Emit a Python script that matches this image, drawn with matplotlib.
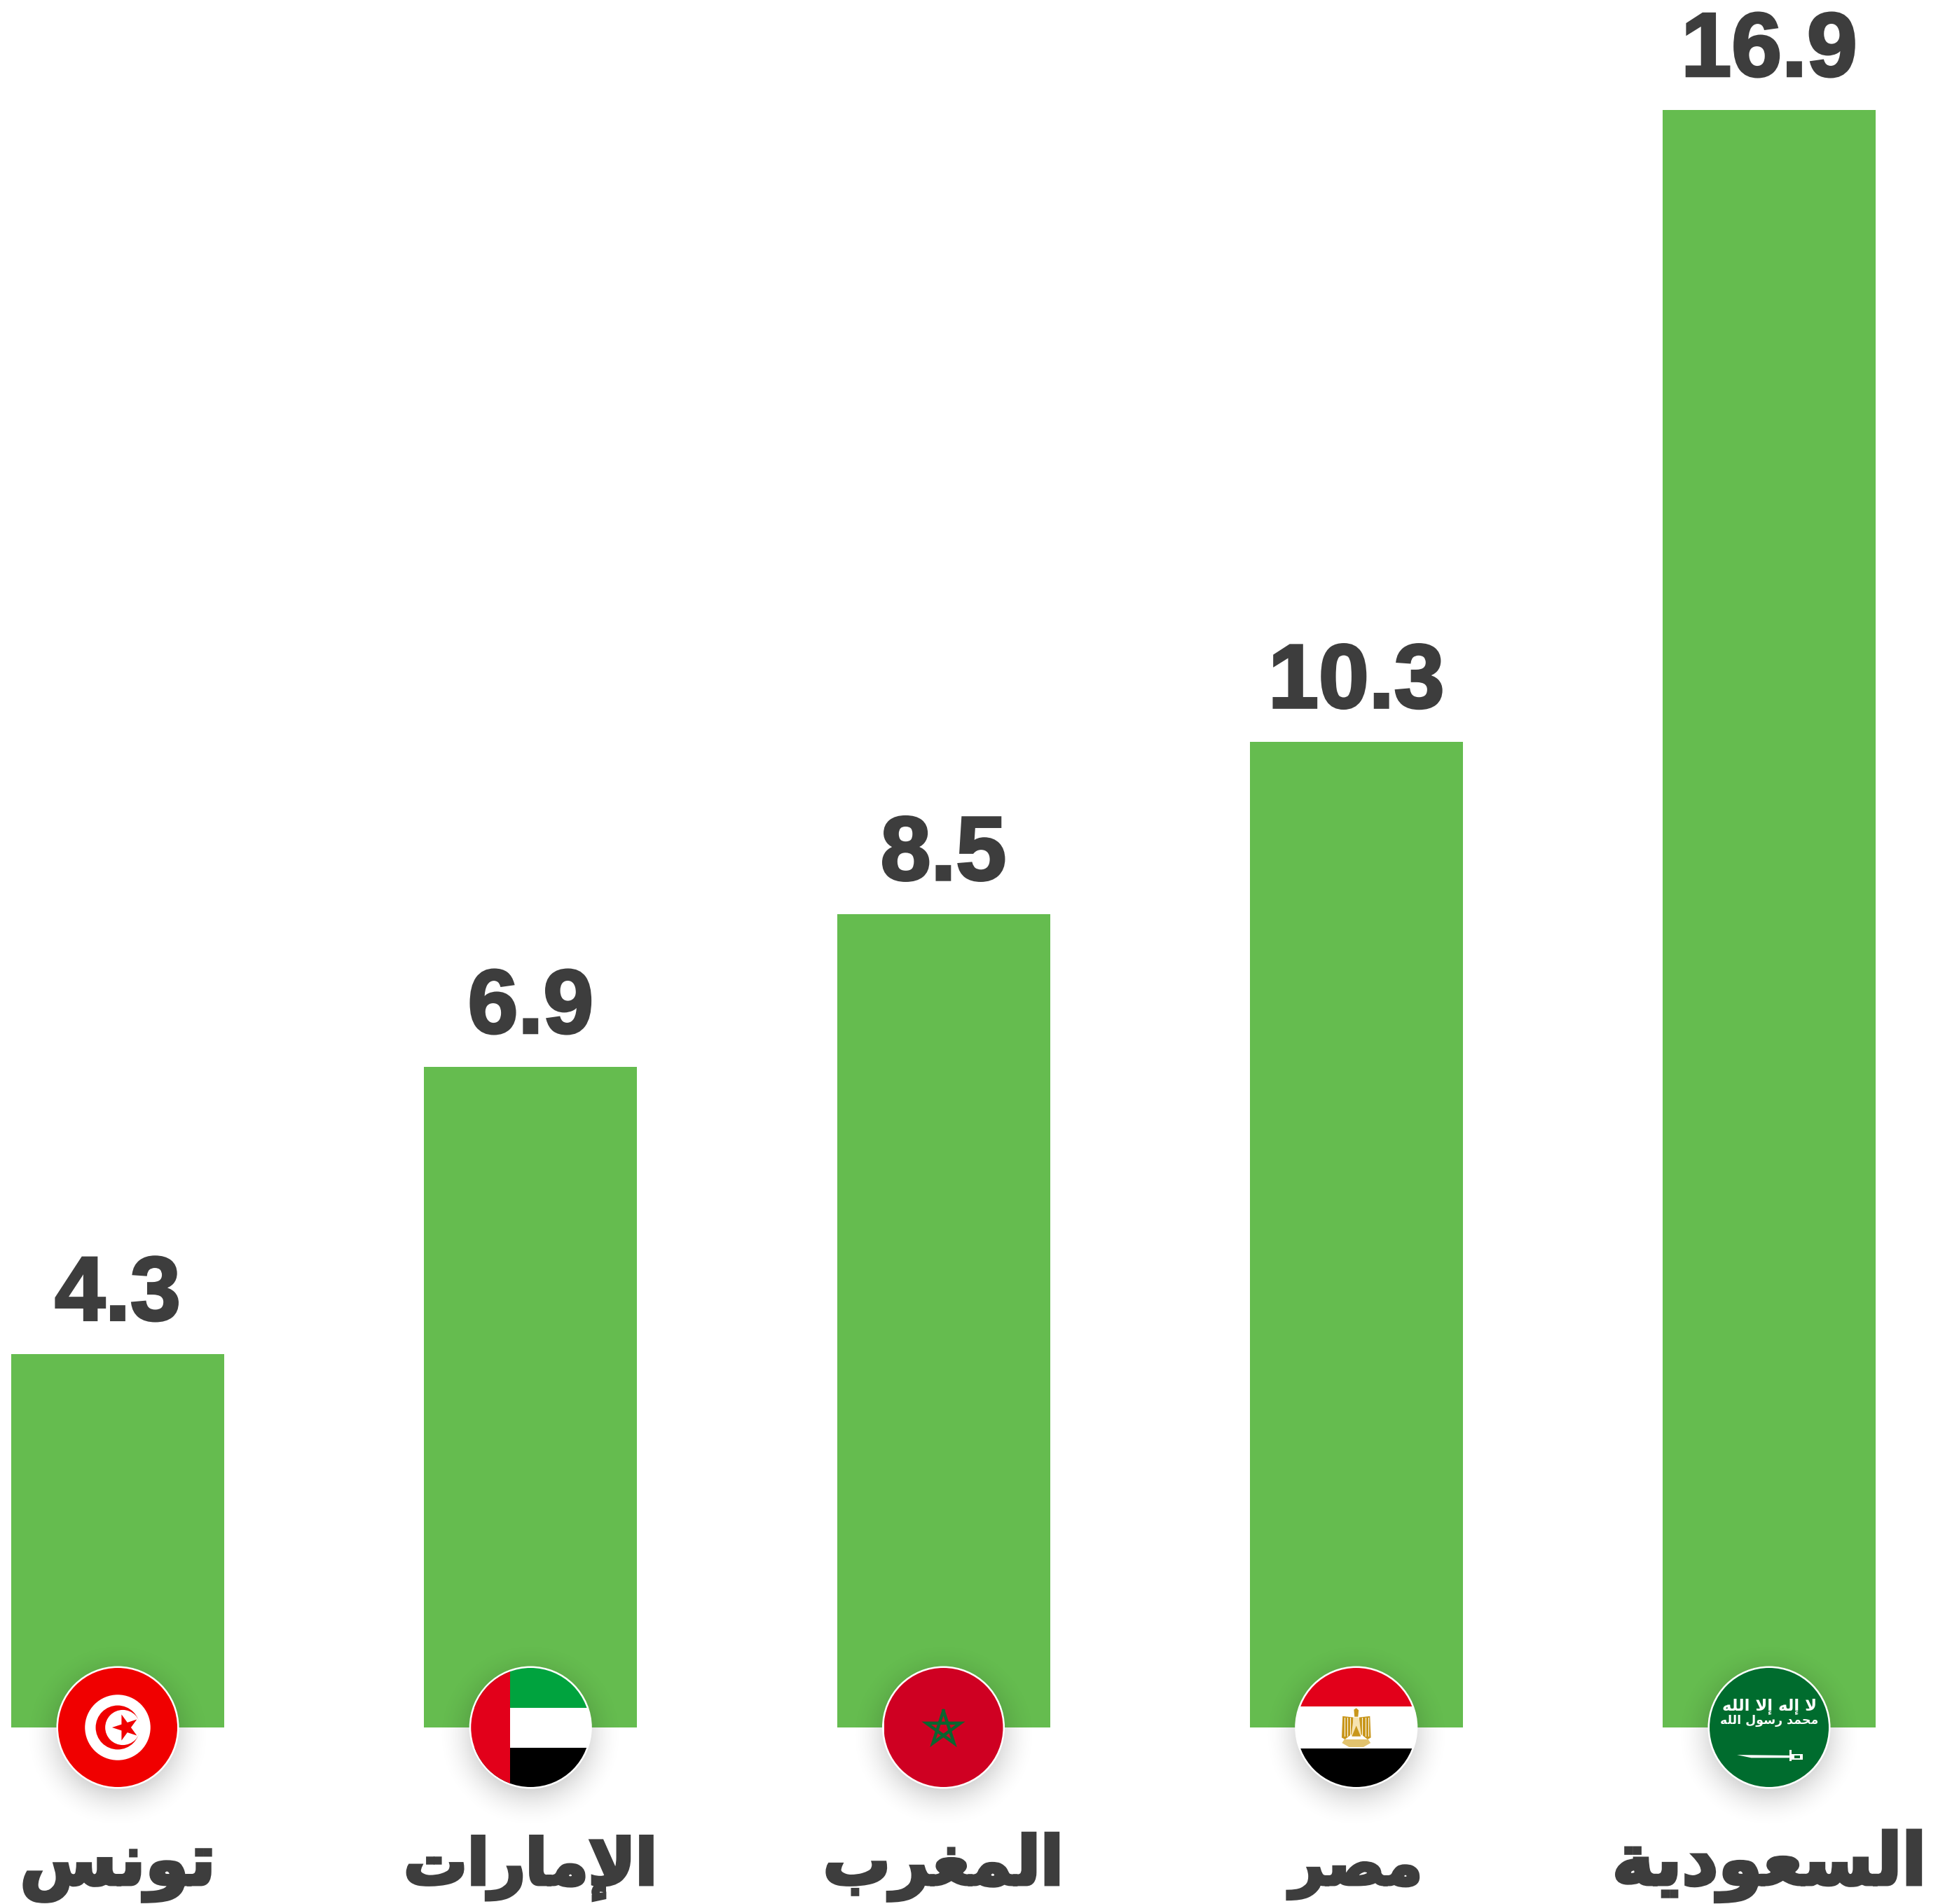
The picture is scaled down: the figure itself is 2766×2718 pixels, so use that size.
#!/usr/bin/env python3
"""Bar chart with round flags, Arabic country labels."""

import numpy as np
import matplotlib
matplotlib.use("Agg")
import matplotlib.pyplot as plt
import matplotlib.patheffects as pe
from matplotlib.patches import Circle, Polygon, Rectangle

W, H = 2766, 2718
DPI = 100

# data, left to right (bar heights; the first bar
# is drawn shorter than its printed 4.3)
countries = ["تونس", "الإمارات", "المغرب", "مصر", "السعودية"]
bar_heights = [3.9, 6.9, 8.5, 10.3, 16.9]
value_labels = ["4.3", "6.9", "8.5", "10.3", "16.9"]
flags = ["tunisia", "uae", "morocco", "egypt", "saudi"]

GREEN = "#65bc4f"
TEXT = "#3d3d3d"

# isolated, final, initial, medial
FORMS = {
    "ا": (0xFE8D, 0xFE8E), "إ": (0xFE87, 0xFE88), "ب": (0xFE8F, 0xFE90, 0xFE91, 0xFE92),
    "ة": (0xFE93, 0xFE94), "ت": (0xFE95, 0xFE96, 0xFE97, 0xFE98),
    "ح": (0xFEA1, 0xFEA2, 0xFEA3, 0xFEA4), "د": (0xFEA9, 0xFEAA), "ر": (0xFEAD, 0xFEAE),
    "س": (0xFEB1, 0xFEB2, 0xFEB3, 0xFEB4), "ص": (0xFEB9, 0xFEBA, 0xFEBB, 0xFEBC),
    "ع": (0xFEC9, 0xFECA, 0xFECB, 0xFECC), "غ": (0xFECD, 0xFECE, 0xFECF, 0xFED0),
    "ل": (0xFEDD, 0xFEDE, 0xFEDF, 0xFEE0), "م": (0xFEE1, 0xFEE2, 0xFEE3, 0xFEE4),
    "ن": (0xFEE5, 0xFEE6, 0xFEE7, 0xFEE8), "ه": (0xFEE9, 0xFEEA, 0xFEEB, 0xFEEC),
    "و": (0xFEED, 0xFEEE), "ي": (0xFEF1, 0xFEF2, 0xFEF3, 0xFEF4),
}
LAM_ALEF = {"ا": (0xFEFB, 0xFEFC), "إ": (0xFEF9, 0xFEFA)}


def shape(word):
    """matplotlib does no Arabic shaping, so pick the forms by hand and reverse."""
    out = []
    joined = False  # does the previous letter reach over to this one
    i = 0
    while i < len(word):
        ch = word[i]
        if ch == " ":
            out.append(ch)
            joined = False
            i += 1
            continue
        if ch == "ل" and i + 1 < len(word) and word[i + 1] in LAM_ALEF:
            out.append(chr(LAM_ALEF[word[i + 1]][1 if joined else 0]))
            joined = False
            i += 2
            continue
        forms = FORMS[ch]
        next_ok = i + 1 < len(word) and word[i + 1] != " "
        if len(forms) == 4 and next_ok:
            out.append(chr(forms[3] if joined else forms[2]))
            joined = True
        else:
            out.append(chr(forms[1] if joined else forms[0]))
            joined = False
        i += 1
    return "".join(reversed(out))


def star_points(cx, cy, r, rot=90, inner=0.382):
    ang = np.radians(rot + np.arange(10) * 36)
    rad = np.where(np.arange(10) % 2 == 0, r, r * inner)
    return np.column_stack([cx + rad * np.cos(ang), cy + rad * np.sin(ang)])


def add_clipped(ax, patch, clip):
    ax.add_patch(patch)
    patch.set_clip_path(clip)
    return patch


def draw_tunisia(ax, clip):
    add_clipped(ax, Rectangle((-1, -1), 2, 2, color="#f00000", lw=0), clip)
    ax.add_patch(Circle((0, 0), 0.55, color="white", lw=0))
    ax.add_patch(Circle((0, 0), 0.37, color="#f00000", lw=0))
    ax.add_patch(Circle((0.085, 0), 0.295, color="white", lw=0))
    ax.add_patch(Polygon(star_points(0.135, 0, 0.23, rot=180), color="#f00000", lw=0))


def draw_uae(ax, clip):
    add_clipped(ax, Rectangle((-1, 0.335), 2, 0.7, color="#00a33e", lw=0), clip)
    add_clipped(ax, Rectangle((-1, -0.345), 2, 0.68, color="white", lw=0), clip)
    add_clipped(ax, Rectangle((-1, -1.03), 2, 0.685, color="black", lw=0), clip)
    add_clipped(ax, Rectangle((-1, -1), 0.66, 2, color="#e2001a", lw=0), clip)


def draw_morocco(ax, clip):
    add_clipped(ax, Rectangle((-1, -1), 2, 2, color="#cf0022", lw=0), clip)
    ang = np.radians(90 + np.arange(6) * 144)
    ax.plot(0.3 * np.cos(ang), -0.02 + 0.3 * np.sin(ang), color="#0b6530", lw=3.2,
            solid_joinstyle="miter")


def draw_egypt(ax, clip):
    add_clipped(ax, Rectangle((-1, 0.35), 2, 0.7, color="#e2001a", lw=0), clip)
    add_clipped(ax, Rectangle((-1, -0.35), 2, 0.7, color="white", lw=0), clip)
    add_clipped(ax, Rectangle((-1, -1.05), 2, 0.7, color="black", lw=0), clip)
    gold = "#c9971c"
    # eagle: wings, body, head, base scroll
    for s in (-1, 1):
        ax.add_patch(Polygon([[s * 0.05, 0.17], [s * 0.23, 0.19], [s * 0.245, -0.17],
                              [s * 0.19, -0.2], [s * 0.06, -0.1]], color=gold, lw=0))
        for x in (0.1, 0.15, 0.2):
            ax.plot([s * x, s * x], [0.16, -0.14], color="white", lw=0.7)
    ax.add_patch(Polygon([[-0.045, 0.17], [0.045, 0.17], [0.085, -0.14], [-0.085, -0.14]],
                         color="#f6e3b0", lw=0))
    ax.add_patch(Polygon([[0, 0.03], [0.075, -0.15], [-0.075, -0.15]], color=gold, lw=0))
    ax.add_patch(Polygon([[-0.03, 0.18], [-0.04, 0.3], [0, 0.325], [0.04, 0.29], [0.03, 0.18]],
                         color=gold, lw=0))
    ax.add_patch(Polygon([[-0.2, -0.2], [0.2, -0.2], [0.24, -0.26], [0.12, -0.33],
                          [-0.12, -0.33], [-0.24, -0.26]], color="#e2c36e", lw=0))


def draw_saudi(ax, clip):
    add_clipped(ax, Rectangle((-1, -1), 2, 2, color="#006c2e", lw=0), clip)
    ax.text(0, 0.36, shape("لا إله إلا الله"), color="white", fontsize=16.5, ha="center",
            va="center", family="DejaVu Sans", fontweight="bold")
    ax.text(0, 0.12, shape("محمد رسول الله"), color="white", fontsize=12.5, ha="center",
            va="center", family="DejaVu Sans", fontweight="bold")
    # sword
    ax.add_patch(Polygon([[-0.54, -0.46], [0.34, -0.47], [0.34, -0.51], [-0.3, -0.51]],
                         color="white", lw=0))
    ax.add_patch(Rectangle((0.34, -0.56), 0.035, 0.18, color="white", lw=0))
    ax.add_patch(Rectangle((0.375, -0.54), 0.19, 0.09, color="white", lw=0))
    ax.add_patch(Rectangle((0.42, -0.52), 0.1, 0.05, color="#006c2e", lw=0))


DRAW = {"tunisia": draw_tunisia, "uae": draw_uae, "morocco": draw_morocco,
        "egypt": draw_egypt, "saudi": draw_saudi}

fig = plt.figure(figsize=(W / DPI, H / DPI), dpi=DPI, facecolor="white")
ax = fig.add_axes([0, 0, 1, 1])

# one category step is 589.25 px, one unit of value 136.6 px, baseline at y=2466
step, unit, base_y, first_x = 589.25, 136.6, 2466, 168
ax.set_xlim(-first_x / step, (W - first_x) / step)
ax.set_ylim(-(H - base_y) / unit, base_y / unit)
ax.axis("off")

x = np.arange(len(countries))
ax.bar(x, bar_heights, width=304 / step, color=GREEN, linewidth=0)

for i, (h, lab) in enumerate(zip(bar_heights, value_labels)):
    ax.annotate(lab, (i, h), xytext=(0, 49 * 72 / DPI), textcoords="offset points",
                ha="center", va="baseline", fontsize=93, fontweight="bold",
                family="Liberation Sans", color=TEXT,
                path_effects=[pe.withStroke(linewidth=2.6, foreground=TEXT, joinstyle="miter")])

# font size per label: the reference font runs narrower than DejaVu Bold on some words
label_sizes = [72, 65, 69, 61, 73]
for i, name in enumerate(countries):
    ax.annotate(shape(name), (i, 0), xytext=(0, -224 * 72 / DPI), textcoords="offset points",
                ha="center", va="baseline", fontsize=label_sizes[i], fontweight="bold",
                family="DejaVu Sans", color=TEXT,
                path_effects=[pe.withStroke(linewidth=3.5, foreground=TEXT, joinstyle="miter")])

# flags sit in little axes of their own, in units of the flag radius
R = 85
HALF = 150
lim = HALF / R
yy, xx = np.mgrid[lim:-lim:300j, -lim:lim:300j]
rr = np.hypot(xx, yy + 0.13)
t = np.clip((rr - 0.8) / (1.6 - 0.8), 0, 1)
shadow = np.zeros(rr.shape + (4,))
shadow[..., 3] = 0.22 * (1 - t) ** 2

for i, flag in enumerate(flags):
    cx, cy = ax.transData.transform((i, 0))
    fax = fig.add_axes([(cx - HALF) / W, (cy - HALF) / H, 2 * HALF / W, 2 * HALF / H])
    fax.imshow(shadow, extent=(-lim, lim, -lim, lim), aspect="auto", zorder=0,
               interpolation="bilinear")
    fax.set_xlim(-lim, lim)
    fax.set_ylim(-lim, lim)
    fax.axis("off")
    fax.add_patch(Circle((0, 0), 1.03, color="white", lw=0, zorder=0.5))
    clip = Circle((0, 0), 1, transform=fax.transData)
    DRAW[flag](fax, clip)

fig.savefig("out.png", dpi=DPI)
plt.close(fig)
